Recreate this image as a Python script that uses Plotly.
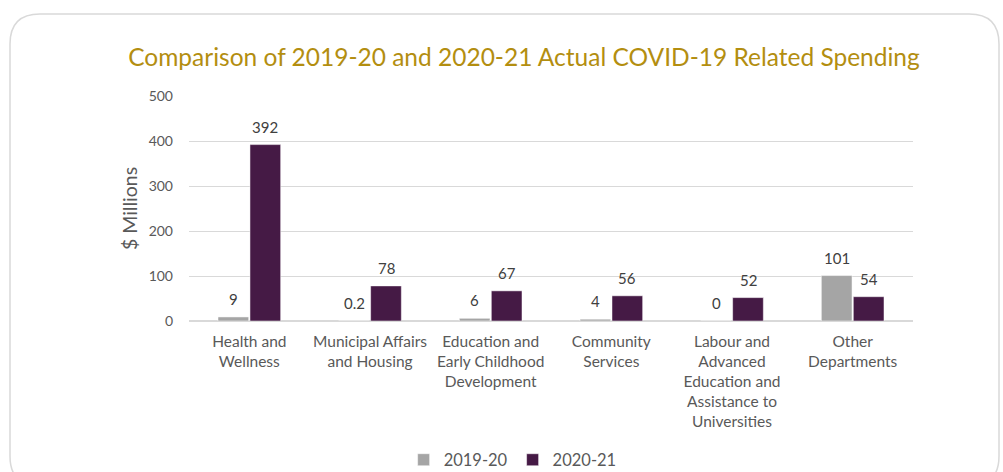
import plotly.graph_objects as go

# Spending by department, $ millions
departments = [
    "Health and<br>Wellness",
    "Municipal Affairs<br>and Housing",
    "Education and<br>Early Childhood<br>Development",
    "Community<br>Services",
    "Labour and<br>Advanced<br>Education and<br>Assistance to<br>Universities",
    "Other<br>Departments",
]
spend_2019_20 = [9, 0.2, 6, 4, 0, 101]
spend_2020_21 = [392, 78, 67, 56, 52, 54]
labels_2019_20 = ["9", "0.2", "6", "4", "0", "101"]
labels_2020_21 = ["392", "78", "67", "56", "52", "54"]
y_ticks = [0, 100, 200, 300, 400, 500]

W, H = 1003, 472
ML, MR, MT, MB = 189, 90, 96, 151
PW, PH = W - ML - MR, H - MT - MB

GREY = "#A5A5A5"
PLUM = "#451A45"
TEXT = "#595959"
FONT = "Lato"

fig = go.Figure()
fig.add_trace(go.Bar(name="2019-20", x=departments, y=spend_2019_20,
                     marker=dict(color=GREY, line=dict(color="white", width=0.5))))
fig.add_trace(go.Bar(name="2020-21", x=departments, y=spend_2020_21,
                     marker=dict(color=PLUM, line=dict(color="white", width=0.5))))

# value labels above each bar
for vals, labs, shift in ((spend_2019_20, labels_2019_20, -16), (spend_2020_21, labels_2020_21, 16)):
    for d, v, t in zip(departments, vals, labs):
        fig.add_annotation(x=d, y=v, xref="x", yref="y", text=t, showarrow=False,
                           xshift=shift, yshift=18, yanchor="middle",
                           font=dict(family=FONT, size=15, color="#404040"))


def px_to_paper(px, py):
    return (px - ML) / PW, (H - MB - py) / PH


# rounded frame around the chart
x0, x1, y0, y1, r = 10, 999, 14, 486, 30
pts = [
    ("M", (x0, y0 + r)),
    ("Q", (x0, y0), (x0 + r, y0)),
    ("L", (x1 - r, y0)),
    ("Q", (x1, y0), (x1, y0 + r)),
    ("L", (x1, y1 - r)),
    ("Q", (x1, y1), (x1 - r, y1)),
    ("L", (x0 + r, y1)),
    ("Q", (x0, y1), (x0, y1 - r)),
]
path = ""
for cmd, *coords in pts:
    path += cmd + " " + " ".join("%.5f,%.5f" % px_to_paper(*c) for c in coords) + " "
path += "Z"
fig.add_shape(type="path", path=path, xref="paper", yref="paper",
              line=dict(color="#D9D9D9", width=1.5), fillcolor="rgba(0,0,0,0)", layer="below")

fig.update_layout(
    width=W, height=H,
    margin=dict(l=ML, r=MR, t=MT, b=MB, autoexpand=False),
    paper_bgcolor="white", plot_bgcolor="white",
    barmode="group", bargap=0.47, bargroupgap=0.04,
    font=dict(family=FONT, color=TEXT, size=13),
    title=dict(text="Comparison of 2019-20 and 2020-21 Actual COVID-19 Related Spending",
               x=524 / W, xanchor="center", y=1 - 57 / H, yanchor="middle",
               font=dict(family=FONT, size=24.5, color="#B38E10")),
    xaxis=dict(showgrid=False, showline=False, ticks="", tickfont=dict(size=15.5, color=TEXT),
               tickangle=0, ticklabelstandoff=9),
    yaxis=dict(range=[0, 500], tickvals=y_ticks, showgrid=True, gridcolor="#D9D9D9", gridwidth=1,
               zeroline=True, zerolinecolor="#D9D9D9", zerolinewidth=1.5,
               ticklabelstandoff=15, tickfont=dict(size=14, color=TEXT),
               title=dict(text="$ Millions", font=dict(size=19.5, color=TEXT), standoff=5)),
    legend=dict(orientation="h", x=0.447, xanchor="center", y=(H - MB - 460) / PH, yanchor="middle",
                font=dict(size=16.5, color=TEXT), itemwidth=30, traceorder="normal"),
)

fig.write_html("out.html")
